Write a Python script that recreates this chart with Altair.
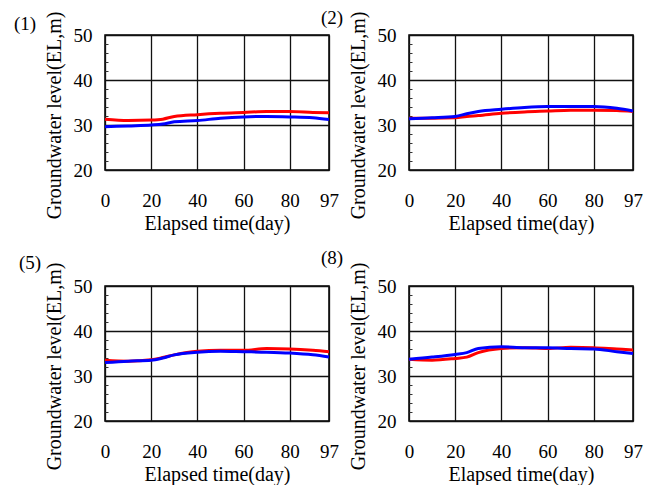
import altair as alt
import pandas as pd

# ---- data ----
days = [0, 10, 20, 25, 30, 40, 50, 60, 70, 80, 90, 97]

panel_labels = ["(1)", "(2)", "(5)", "(8)"]

red_1 = [31.3, 31.0, 31.1, 31.3, 31.9, 32.3, 32.6, 32.8, 33.0, 33.0, 32.8, 32.7]
blue_1 = [29.6, 29.8, 30.0, 30.2, 30.7, 31.0, 31.5, 31.8, 31.9, 31.8, 31.6, 31.2]

red_2 = [31.5, 31.5, 31.6, 31.9, 32.1, 32.6, 32.9, 33.1, 33.3, 33.3, 33.2, 33.0]
blue_2 = [31.4, 31.6, 31.9, 32.5, 33.0, 33.5, 33.9, 34.1, 34.1, 34.1, 33.7, 33.1]

red_5 = [33.5, 33.3, 33.6, 34.1, 34.7, 35.5, 35.7, 35.7, 36.1, 36.0, 35.7, 35.4]
blue_5 = [33.0, 33.3, 33.5, 34.0, 34.7, 35.3, 35.5, 35.4, 35.3, 35.1, 34.7, 34.2]

red_8 = [33.7, 33.5, 33.9, 34.2, 35.2, 36.1, 36.3, 36.1, 36.4, 36.3, 36.0, 35.8]
blue_8 = [33.7, 34.2, 34.8, 35.2, 36.1, 36.5, 36.3, 36.3, 36.1, 36.0, 35.4, 35.0]

x_ticks = [0, 20, 40, 60, 80, 97]
y_ticks = [20, 30, 40, 50]
y_minor = [22, 24, 26, 28, 32, 34, 36, 38, 42, 44, 46, 48]
x_title = "Elapsed time(day)"
y_title = "Groundwater level(EL,m)"

FONT = "Liberation Serif"
W, H = 224, 135


def panel(label, red, blue, lab_dx, lab_dy):
    n = len(days)
    df = pd.DataFrame({
        "day": days + days,
        "level": red + blue,
        "series": ["red"] * n + ["blue"] * n,
    })
    xscale = alt.Scale(domain=[0, 97], nice=False, zero=False)
    yscale = alt.Scale(domain=[20, 50], nice=False, zero=False)
    xaxis = alt.Axis(values=x_ticks, title=x_title, labelPadding=21, titlePadding=3)
    x = alt.X("day:Q", scale=xscale, axis=xaxis)
    y = alt.Y("level:Q", scale=yscale,
              axis=alt.Axis(values=y_ticks, title=y_title, labelPadding=13,
                            titleX=-51, titleY=80, titleBaseline="middle"))
    lines = alt.Chart(df).mark_line(strokeWidth=3, interpolate="monotone").encode(
        x=x, y=y,
        color=alt.Color("series:N",
                        scale=alt.Scale(domain=["red", "blue"],
                                        range=["#ff0000", "#0000ff"]),
                        legend=None),
        detail="series:N",
    )
    # minor ticks drawn inside the left edge
    minor = alt.Chart(df).mark_line(opacity=0).encode(
        x=alt.X("day:Q", scale=xscale, axis=xaxis),
        y=alt.Y("level:Q", scale=yscale,
                axis=alt.Axis(orient="left", values=y_minor, labels=False,
                              ticks=True, tickSize=3, tickColor="#333333",
                              tickWidth=1, grid=False, domain=False,
                              title=None, offset=-3)),
        detail="series:N",
    )
    txt = alt.Chart(pd.DataFrame({"t": [label]})).mark_text(
        font=FONT, fontSize=19, align="center", baseline="middle", color="black"
    ).encode(x=alt.value(lab_dx), y=alt.value(lab_dy), text="t:N")
    return alt.layer(lines, minor, txt).resolve_axis(y="independent").properties(
        width=W, height=H)


p1 = panel(panel_labels[0], red_1, blue_1, -80, -11)
p2 = panel(panel_labels[1], red_2, blue_2, -77, -17)
p5 = panel(panel_labels[2], red_5, blue_5, -75, -23)
p8 = panel(panel_labels[3], red_8, blue_8, -77, -28)

chart = alt.concat(
    p1, p2, p5, p8, columns=2,
    spacing=alt.RowColnumber(row=116, column=80),
    bounds="flush",
).properties(
    padding={"left": 5, "top": 0, "right": 0, "bottom": 0}
).configure_view(
    stroke="black", strokeWidth=1.5
).configure_axis(
    labelFont=FONT, labelFontSize=19, labelColor="black",
    titleFont=FONT, titleFontSize=20, titleFontWeight="normal", titleColor="black",
    ticks=False, domain=False,
    grid=True, gridColor="#111111", gridWidth=1.3,
    labelFlush=False, labelOverlap=False,
)

chart.save("out.html", embed_options={"renderer": "svg", "actions": False})
